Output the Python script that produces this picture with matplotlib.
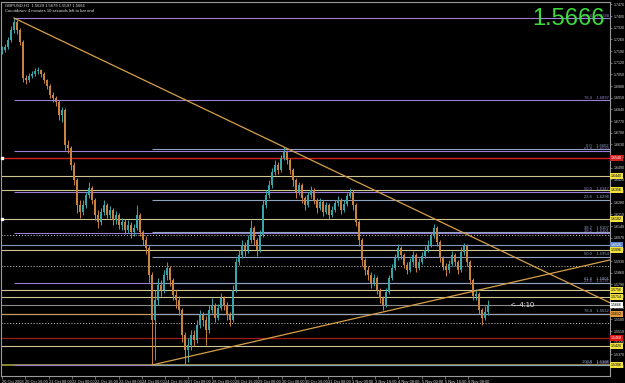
import numpy as np
import matplotlib
matplotlib.use("Agg")
import matplotlib.pyplot as plt

plt.rcParams["font.family"] = ["Liberation Sans Narrow", "Liberation Sans", "DejaVu Sans"]

# ---- data (GBPUSD; prices in pips / 1e4) ----
OPEN0 = 17184
CLOSE = [17196, 17214, 17256, 17316, 17364, 17316, 17244, 17028, 17016, 17040,
         17052, 17070, 17076, 17052, 17016, 16980, 16926, 16908, 16884, 16806,
         16836, 16626, 16608, 16506, 16416, 16266, 16224, 16266, 16326, 16368,
         16296, 16206, 16164, 16224, 16266, 16206, 16236, 16176, 16206, 16146,
         16164, 16116, 16146, 16104, 16128, 16206, 16104, 16056, 16008, 15846,
         15576, 15696, 15786, 15756, 15846, 15888, 15816, 15726, 15696, 15636,
         15486, 15396, 15426, 15486, 15456, 15546, 15606, 15576, 15516, 15636,
         15666, 15588, 15648, 15708, 15666, 15606, 15576, 15756, 15924, 15966,
         16026, 15996, 16056, 16128, 16056, 15996, 16086, 16266, 16326, 16386,
         16464, 16506, 16476, 16548, 16584, 16536, 16476, 16416, 16344, 16386,
         16308, 16266, 16326, 16356, 16296, 16248, 16284, 16224, 16266, 16206,
         16236, 16278, 16296, 16236, 16272, 16320, 16344, 16266, 16164, 16056,
         15936, 15876, 15846, 15798, 15828, 15756, 15708, 15666, 15744, 15828,
         15888, 15948, 16008, 15966, 15906, 15876, 15924, 15966, 15888, 15924,
         15960, 15996, 16026, 16080, 16128, 16044, 15948, 15900, 15876, 15912,
         15966, 15924, 15876, 15984, 16020, 15924, 15816, 15720, 15732, 15636,
         15588, 15624, 15666]
HIGH = [17220, 17232, 17274, 17340, 17388, 17376, 17328, 17256, 17046, 17058,
        17070, 17088, 17094, 17082, 17064, 17022, 16992, 16944, 16920, 16896,
        16854, 16848, 16656, 16620, 16524, 16428, 16296, 16296, 16344, 16404,
        16380, 16308, 16236, 16248, 16296, 16278, 16260, 16248, 16230, 16218,
        16188, 16182, 16176, 16164, 16152, 16266, 16218, 16116, 16080, 16026,
        15864, 15756, 15828, 15816, 15876, 15924, 15900, 15828, 15756, 15720,
        15648, 15504, 15468, 15516, 15516, 15576, 15636, 15624, 15600, 15666,
        15708, 15678, 15672, 15738, 15720, 15684, 15624, 15786, 15948, 15996,
        16056, 16044, 16086, 16176, 16140, 16068, 16116, 16296, 16356, 16416,
        16488, 16536, 16524, 16566, 16614, 16596, 16548, 16488, 16428, 16404,
        16398, 16320, 16344, 16380, 16368, 16308, 16308, 16296, 16284, 16278,
        16260, 16296, 16320, 16308, 16296, 16338, 16368, 16356, 16278, 16176,
        16068, 15948, 15900, 15864, 15852, 15840, 15768, 15720, 15768, 15846,
        15912, 15972, 16032, 16020, 15978, 15924, 15948, 15990, 15978, 15948,
        15984, 16020, 16056, 16104, 16152, 16140, 16056, 15960, 15918, 15936,
        15990, 15978, 15936, 16014, 16038, 16032, 15936, 15828, 15762, 15744,
        15648, 15660, 15696]
LOW = [17172, 17184, 17202, 17244, 17298, 17292, 17226, 17004, 16992, 17004,
       17028, 17040, 17052, 17034, 16998, 16962, 16908, 16884, 16860, 16776,
       16764, 16596, 16578, 16476, 16386, 16218, 16188, 16206, 16248, 16308,
       16272, 16176, 16128, 16146, 16206, 16188, 16188, 16146, 16152, 16122,
       16116, 16092, 16098, 16068, 16080, 16116, 16080, 16026, 15972, 15804,
       15306, 15336, 15666, 15720, 15738, 15816, 15780, 15696, 15648, 15606,
       15444, 15306, 15324, 15396, 15420, 15438, 15528, 15540, 15426, 15498,
       15618, 15564, 15576, 15636, 15636, 15576, 15540, 15564, 15744, 15906,
       15948, 15960, 15978, 16038, 16026, 15960, 15984, 16074, 16248, 16308,
       16368, 16446, 16452, 16464, 16536, 16512, 16452, 16380, 16308, 16326,
       16278, 16236, 16254, 16308, 16272, 16218, 16236, 16200, 16212, 16182,
       16194, 16224, 16260, 16212, 16224, 16260, 16308, 16236, 16140, 16020,
       15900, 15846, 15816, 15768, 15780, 15732, 15678, 15636, 15654, 15732,
       15816, 15876, 15936, 15942, 15888, 15852, 15864, 15906, 15864, 15876,
       15912, 15948, 15984, 16014, 16068, 16020, 15924, 15876, 15840, 15858,
       15900, 15900, 15852, 15864, 15966, 15900, 15792, 15696, 15696, 15612,
       15546, 15576, 15606]

# Fibonacci retracements (ratio label, price)
BIG_FIB_RATIOS = ["100.0", "76.4", "61.8", "50.0", "38.2", "23.6", "0.0"]
BIG_FIB_PRICES = [1.7388, 1.6897, 1.6593, 1.6347, 1.6101, 1.5797, 1.5306]
SMALL_FIB_RATIOS = ["0.0", "23.6", "38.2", "50.0", "61.8", "76.4", "100.0"]
SMALL_FIB_PRICES = [1.6602, 1.6296, 1.6107, 1.5954, 1.5801, 1.5612, 1.5306]

# plain horizontal levels across the whole chart
LEVELS = [1.6548, 1.6440, 1.6356, 1.6182, 1.6086, 1.6026, 1.5996, 1.5900,
          1.5756, 1.5714, 1.5612, 1.5558, 1.5468, 1.5420, 1.5306]
LEVEL_KIND = ["red", "khaki", "khaki", "khaki", "dot", "blue", "khaki", "dot",
              "khaki", "khaki", "tan", "dot", "dkred", "khaki", "olive"]

# trendlines: (bar index, price) anchors
TREND_DOWN = [(4, 1.7388), (94, 1.6614)]
TREND_UP = [(50, 1.5306), (127, 1.5624)]

BID = 1.5666
HEADER = "GBPUSD,H1  1.5629 1.5679 1.5597 1.5666"
COUNTDOWN = "Countdown: 4 minutes 10 seconds left to bar end"
XLABELS = ["20 Oct 2008", "20 Oct 16:00", "21 Oct 08:00", "22 Oct 00:00", "22 Oct 16:00",
           "23 Oct 08:00", "24 Oct 00:00", "24 Oct 16:00", "27 Oct 08:00", "28 Oct 00:00",
           "28 Oct 16:00", "29 Oct 08:00", "30 Oct 00:00", "30 Oct 16:00", "31 Oct 08:00",
           "3 Nov 00:00", "3 Nov 16:00", "4 Nov 08:00", "5 Nov 00:00", "5 Nov 16:00",
           "6 Nov 08:00"]

# ---- style ----
UP = "#3aa5a8"
DOWN = "#c98240"
PURPLE = "#9a7fd2"
FIBGRAY = "#8ea2c0"
KIND_STYLE = {
    "red":   dict(color="#d42020", ls="-", lw=1.0, box="#d42020", txt="white"),
    "khaki": dict(color="#cfc793", ls="-", lw=0.8, box="#f0e040", txt="black"),
    "dot":   dict(color="#d0d0d0", ls=(0, (1, 2)), lw=0.7, box=None, txt=None),
    "blue":  dict(color="#7f96b8", ls="-", lw=0.8, box="#5b86c8", txt="white"),
    "tan":   dict(color="#c99a5c", ls="-", lw=0.9, box="#e09a3a", txt="black"),
    "dkred": dict(color="#a01818", ls="-", lw=0.9, box="#e01010", txt="white"),
    "olive": dict(color="#a3a040", ls="-", lw=1.2, box="#f0e040", txt="black"),
}
SMALL = 3.0
AXIS = 2.6

close = np.array(CLOSE) / 1e4
high = np.array(HIGH) / 1e4
low = np.array(LOW) / 1e4
opn = np.concatenate([[OPEN0 / 1e4], close[:-1]])
idx = np.arange(len(close))

fig = plt.figure(figsize=(6.25, 3.83), dpi=100, facecolor="black")
ax = fig.add_axes([1 / 625, 7 / 383, 609 / 625, 374 / 383], facecolor="black")
x0, x1 = -0.33, 202.67
ax.set_xlim(x0, x1)
ax.set_ylim(1.5240, 1.7484)

# horizontal levels
for p, k in zip(LEVELS, LEVEL_KIND):
    st = KIND_STYLE[k]
    ax.hlines(p, x0, x1, color=st["color"], ls=st["ls"], lw=st["lw"], zorder=1)
    if st["box"]:
        ax.text(1.002, p, f"{p:.4f}", transform=ax.get_yaxis_transform(), fontsize=AXIS,
                color=st["txt"], va="center", ha="left", clip_on=False, zorder=6,
                bbox=dict(boxstyle="square,pad=0.2", fc=st["box"], ec="none"))
ax.hlines(BID, x0, x1, color="#8c8c8c", lw=0.8, zorder=1)
ax.text(1.002, BID, f"{BID:.4f}", transform=ax.get_yaxis_transform(), fontsize=AXIS,
        color="black", va="center", ha="left", clip_on=False, zorder=6,
        bbox=dict(boxstyle="square,pad=0.2", fc="white", ec="none"))

# fibonacci lines + labels
for r, p in zip(BIG_FIB_RATIOS, BIG_FIB_PRICES):
    ax.hlines(p, TREND_DOWN[0][0], x1, color=PURPLE, lw=0.8, zorder=1)
    ax.text(x1 - 0.5, p, f"{r}    {p:.4f}", fontsize=SMALL, color=PURPLE,
            ha="right", va="bottom", zorder=2)
for r, p in zip(SMALL_FIB_RATIOS, SMALL_FIB_PRICES):
    ax.hlines(p, TREND_UP[0][0], x1, color=FIBGRAY, lw=0.8, zorder=1)
    ax.text(x1 - 0.5, p + 0.0009, f"{r}    {p:.4f}", fontsize=SMALL, color=FIBGRAY,
            ha="right", va="bottom", zorder=2)

# trendlines extended to the right edge
for (ia, pa), (ib, pb) in (TREND_DOWN, TREND_UP):
    slope = (pb - pa) / (ib - ia)
    ax.plot([ia, x1], [pa, pa + slope * (x1 - ia)], color="#d6a04a", lw=0.9, zorder=5)

# candles
cols = np.where(close >= opn, UP, DOWN)
ax.vlines(idx, low, high, colors=cols, lw=0.7, zorder=3)
ax.bar(idx, np.maximum(np.abs(close - opn), 0.0003), bottom=np.minimum(opn, close),
       width=0.6, color=cols, lw=0, zorder=4)

# small markers on the left edge
for p in (LEVELS[0], LEVELS[3]):
    ax.plot(0, p, "s", ms=2, color="white", clip_on=False, zorder=7)

# axes cosmetics
for s in ax.spines.values():
    s.set_color("#9a9a9a")
    s.set_linewidth(0.8)
ax.yaxis.tick_right()
yt = np.arange(1.5300, 1.7480, 0.0070)
ax.set_yticks(yt)
ax.set_yticklabels([f"{v:.4f}" for v in yt], fontsize=AXIS, color="#d8d8d8")
ax.tick_params(axis="y", length=1.5, width=0.5, color="#9a9a9a", pad=1)
xt = np.arange(len(XLABELS)) * 7.77
ax.set_xticks(xt)
ax.set_xticklabels(XLABELS, fontsize=2.9, color="#d8d8d8", ha="left")
ax.tick_params(axis="x", length=2, width=0.5, color="#9a9a9a", pad=1)

# header texts
ax.text(0.006, 0.996, HEADER, transform=ax.transAxes, fontsize=SMALL, color="#e0e0e0",
        va="top", ha="left")
ax.text(0.006, 0.981, COUNTDOWN, transform=ax.transAxes, fontsize=SMALL, color="#e0e0e0",
        va="top", ha="left")
ax.text(0.992, 0.985, f"{BID:.4f}", transform=ax.transAxes, fontsize=17, color="#3ddc3d",
        va="top", ha="right")
ax.text(169.5, BID - 0.0005, "<--4:10", fontsize=5.5, color="#e8e8e8", va="center",
        ha="left", zorder=6)

fig.savefig("out.png", dpi=100, facecolor="black")
